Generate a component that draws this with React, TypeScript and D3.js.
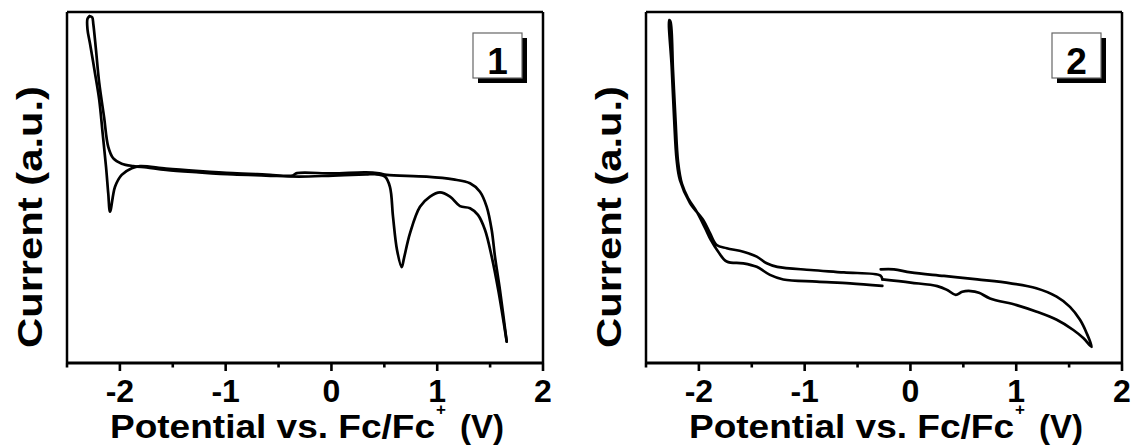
import React from 'react';
import * as d3 from 'd3';

// ---- data ----
const xDomain: [number, number] = [-2.5, 2];
const yDomain: [number, number] = [0, 100];
const xTickValues = [-2, -1, 0, 1, 2];
const xTickLabels = ['-2', '-1', '0', '1', '2'];
const xMinorTicks = [-2.5, -1.5, -0.5, 0.5, 1.5];
const panelLabels = ['1', '2'];
const xTitle = 'Potential vs. Fc/Fc';
const xTitleSup = '+';
const xTitleUnit = '(V)';
const yTitle = 'Current (a.u.)';

// Panel 1 : forward (positive-going) scan
const cv1Forward: [number, number][] = [
  [-2.285, 98.8], [-2.306, 98.1], [-2.306, 95.0], [-2.283, 91.1], [-2.235, 82.5], [-2.195, 74.9],
  [-2.163, 65.4], [-2.131, 55.9], [-2.110, 48.3], [-2.093, 43.1], [-2.046, 50.2],
  [-1.983, 53.6], [-1.888, 55.5], [-1.810, 56.1], [-1.564, 55.4], [-1.249, 54.7],
  [-0.934, 54.1], [-0.619, 53.7], [-0.366, 53.4], [-0.326, 54.1], [0.012, 54.0],
  [0.327, 54.3], [0.452, 54.0], [0.522, 53.6], [0.900, 53.1], [1.152, 52.3],
  [1.310, 51.2], [1.404, 48.8], [1.468, 44.5], [1.515, 37.9], [1.546, 30.3],
  [1.593, 20.8], [1.657, 6.1],
];
// Panel 1 : reverse (negative-going) scan
const cv1Reverse: [number, number][] = [
  [1.657, 6.1], [1.577, 20.8], [1.515, 30.3], [1.452, 37.9], [1.385, 42.2],
  [1.310, 44.1], [1.215, 44.7], [1.121, 47.4], [1.026, 48.6], [0.932, 47.4],
  [0.837, 44.5], [0.743, 37.0], [0.686, 29.9], [0.664, 27.3], [0.620, 32.2],
  [0.582, 41.7], [0.553, 50.2], [0.506, 53.1], [0.412, 53.8], [0.327, 53.7],
  [0.015, 53.4], [-0.307, 53.1], [-0.619, 53.4], [-0.931, 53.7], [-1.252, 54.3],
  [-1.564, 55.0], [-1.747, 55.7], [-1.873, 56.1], [-1.983, 56.8], [-2.062, 58.3],
  [-2.110, 61.6], [-2.150, 70.2], [-2.195, 79.7], [-2.226, 89.2], [-2.251, 96.5],
  [-2.262, 98.5], [-2.285, 98.8],
];

// Panel 2 : continuous scan (starts near -0.28 V, goes positive first)
const cv2Scan: [number, number][] = [
  [-0.281, 26.7], [-0.156, 26.7], [0.002, 25.8], [0.317, 24.8], [0.632, 23.8],
  [0.948, 22.7], [1.190, 21.3], [1.382, 18.9], [1.508, 16.0], [1.603, 12.3],
  [1.666, 8.5], [1.713, 4.6],
  [1.634, 7.1], [1.540, 9.4], [1.383, 12.3], [1.194, 14.6], [1.004, 16.5],
  [0.752, 18.4], [0.648, 20.0], [0.570, 20.5], [0.490, 20.3], [0.428, 19.4],
  [0.348, 20.8], [0.254, 21.9], [0.002, 22.9], [-0.266, 23.8],
];
const cv2ScanB: [number, number][] = [
  [-0.266, 23.8], [-0.283, 24.9],
  [-0.628, 25.8], [-0.943, 26.5], [-1.259, 27.4], [-1.359, 28.4], [-1.453, 30.3],
  [-1.580, 31.7], [-1.737, 32.7], [-1.832, 33.6], [-1.895, 37.0], [-1.958, 40.7],
  [-2.084, 45.6], [-2.179, 52.1], [-2.210, 57.8], [-2.235, 70.2], [-2.257, 84.4],
  [-2.280, 97.7],
  [-2.268, 97.2], [-2.245, 83.5], [-2.221, 69.2], [-2.197, 57.3], [-2.160, 51.0],
  [-2.103, 47.0], [-2.018, 43.0], [-1.942, 38.5], [-1.886, 35.0], [-1.817, 31.7],
  [-1.737, 28.9], [-1.580, 28.4], [-1.453, 27.4], [-1.328, 25.1], [-1.202, 23.8],
  [-0.886, 23.2], [-0.571, 22.7], [-0.266, 22.0],
];

const panelCurves: [number, number][][][] = [
  [cv1Forward, cv1Reverse],
  [cv2Scan, cv2ScanB],
];

const FONT = '"Liberation Sans", Arial, Helvetica, sans-serif';

function Panel({ index, offsetX }: { index: number; offsetX: number }) {
  const left = 67 + offsetX;
  const right = 543 + offsetX;
  const top = 12;
  const bottom = 363;
  const x = d3.scaleLinear().domain(xDomain).range([left, right]);
  const y = d3.scaleLinear().domain(yDomain).range([bottom, top]);
  const line = d3
    .line<[number, number]>()
    .x((d) => x(d[0]))
    .y((d) => y(d[1]))
    .curve(d3.curveCatmullRom.alpha(0.5));

  const titleStart = left + 43;
  const boxX = left + 406;
  const boxY = 33;
  const boxW = 49;
  const boxH = 45;

  return (
    <g>
      {panelCurves[index].map((c, i) => (
        <path
          key={i}
          d={line(c) || ''}
          fill="none"
          stroke="#000"
          strokeWidth={2.7}
          strokeLinejoin="round"
          strokeLinecap="round"
        />
      ))}
      <line x1={left} x2={left} y1={top} y2={bottom} stroke="#000" strokeWidth={2.5} />
      <line x1={right} x2={right} y1={top} y2={bottom} stroke="#000" strokeWidth={2.5} />
      <line x1={left} x2={right} y1={top} y2={top} stroke="#000" strokeWidth={2.5} />
      <line x1={left - 1} x2={right + 1} y1={bottom} y2={bottom} stroke="#000" strokeWidth={3} />
      {xTickValues.map((v) => (
        <line key={'M' + v} x1={x(v)} x2={x(v)} y1={bottom} y2={bottom + 8} stroke="#000" strokeWidth={2.6} />
      ))}
      {xMinorTicks.map((v) => (
        <line key={'m' + v} x1={x(v)} x2={x(v)} y1={bottom} y2={bottom + 4.5} stroke="#000" strokeWidth={2.6} />
      ))}
      {xTickValues.map((v, i) => (
        <text
          key={'t' + v}
          x={x(v)}
          y={402}
          textAnchor="middle"
          fontFamily={FONT}
          fontWeight="bold"
          fontSize={32}
        >
          {xTickLabels[i]}
        </text>
      ))}
      <text
        x={titleStart}
        y={438}
        fontFamily={FONT}
        fontWeight="bold"
        fontSize={34}
        textLength={325}
        lengthAdjust="spacingAndGlyphs"
      >
        {xTitle}
      </text>
      <text x={titleStart + 331} y={415} textAnchor="middle" fontFamily={FONT} fontWeight="bold" fontSize={17}>
        {xTitleSup}
      </text>
      <text
        x={titleStart + 350}
        y={438}
        fontFamily={FONT}
        fontWeight="bold"
        fontSize={34}
        textLength={44}
        lengthAdjust="spacingAndGlyphs"
      >
        {xTitleUnit}
      </text>
      <text
        transform={`translate(${left - 25},${217}) rotate(-90)`}
        textAnchor="middle"
        fontFamily={FONT}
        fontWeight="bold"
        fontSize={35}
        textLength={262}
        lengthAdjust="spacingAndGlyphs"
      >
        {yTitle}
      </text>
      <rect x={boxX + 5} y={boxY + 5} width={boxW} height={boxH} fill="#000" />
      <rect x={boxX} y={boxY} width={boxW} height={boxH} fill="#fff" stroke="#666" strokeWidth={1.2} />
      <text
        x={boxX + boxW / 2}
        y={boxY + 41}
        textAnchor="middle"
        fontFamily={FONT}
        fontWeight="bold"
        fontSize={37}
      >
        {panelLabels[index]}
      </text>
    </g>
  );
}

export default function App() {
  return (
    <svg
      width={1134}
      height={446}
      viewBox="0 0 1134 446"
      style={{ position: 'absolute', left: 0, top: 0, background: '#fff' }}
    >
      <rect x={0} y={0} width={1134} height={446} fill="#fff" />
      <Panel index={0} offsetX={0} />
      <Panel index={1} offsetX={579} />
    </svg>
  );
}
